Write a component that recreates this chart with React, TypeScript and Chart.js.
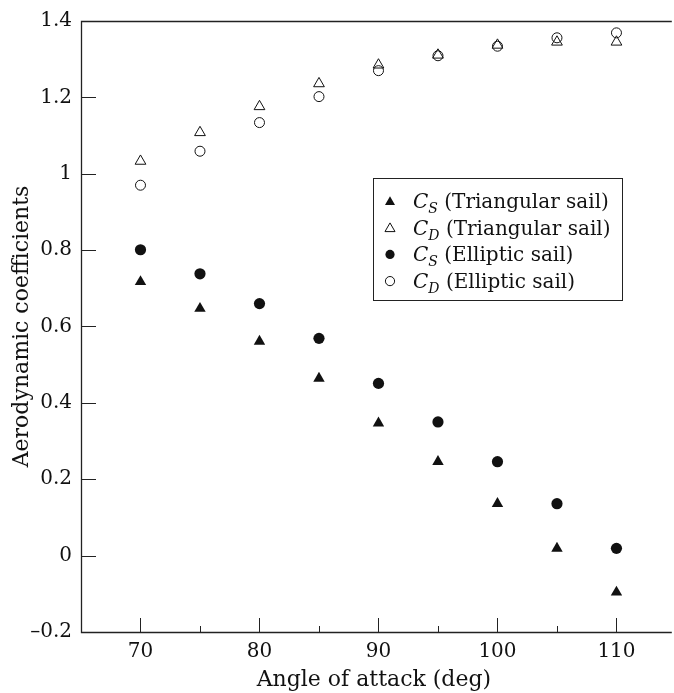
import React, { useEffect, useRef } from "react";
import { Chart, registerables } from "chart.js";

Chart.register(...registerables);

// ---- data ----
const angles = [70, 75, 80, 85, 90, 95, 100, 105, 110];
const csTriangular = [0.717, 0.647, 0.561, 0.464, 0.347, 0.246, 0.136, 0.019, -0.096];
const cdTriangular = [1.033, 1.108, 1.176, 1.236, 1.285, 1.311, 1.337, 1.345, 1.345];
const csElliptic = [0.801, 0.738, 0.66, 0.569, 0.451, 0.35, 0.246, 0.136, 0.019];
const cdElliptic = [0.97, 1.059, 1.134, 1.202, 1.27, 1.309, 1.334, 1.356, 1.369];

const xTickValues = [70, 75, 80, 85, 90, 95, 100, 105, 110];
const xLabelValues = [70, 80, 90, 100, 110];
const yTickValues = [-0.2, 0, 0.2, 0.4, 0.6, 0.8, 1.0, 1.2, 1.4];

const legendSymbols = ["C", "C", "C", "C"];
const legendSubs = ["S", "D", "S", "D"];
const legendRest = [" (Triangular sail)", " (Triangular sail)", " (Elliptic sail)", " (Elliptic sail)"];
const legendMarkers = ["triangleFilled", "triangleOpen", "circleFilled", "circleOpen"];

const xTitle = "Angle of attack (deg)";
const yTitle = "Aerodynamic coefficients";

const FONT = "'DejaVu Serif', serif";
const INK = "#111";

function drawMarker(ctx: CanvasRenderingContext2D, kind: string, x: number, y: number, r: number) {
  ctx.beginPath();
  if (kind.startsWith("triangle")) {
    let rad = 0;
    ctx.moveTo(x + Math.sin(rad) * r, y - Math.cos(rad) * r);
    rad += (2 * Math.PI) / 3;
    ctx.lineTo(x + Math.sin(rad) * r, y - Math.cos(rad) * r);
    rad += (2 * Math.PI) / 3;
    ctx.lineTo(x + Math.sin(rad) * r, y - Math.cos(rad) * r);
    ctx.closePath();
  } else {
    ctx.arc(x, y, r, 0, Math.PI * 2);
  }
  if (kind.endsWith("Filled")) {
    ctx.fillStyle = INK;
    ctx.fill();
  } else {
    ctx.fillStyle = "#fff";
    ctx.fill();
    ctx.lineWidth = 1;
    ctx.strokeStyle = INK;
    ctx.stroke();
  }
}

const framePlugin = {
  id: "frame",
  afterDraw(chart: any) {
    const ctx: CanvasRenderingContext2D = chart.ctx;
    const { left, right, top, bottom } = chart.chartArea;
    const xs = chart.scales.x;
    const ys = chart.scales.y;
    ctx.save();
    ctx.strokeStyle = "#222";
    ctx.lineWidth = 1.3;
    ctx.beginPath();
    ctx.moveTo(right + 5, top + 0.5);
    ctx.lineTo(left + 0.5, top + 0.5);
    ctx.lineTo(left + 0.5, bottom + 0.5);
    ctx.lineTo(right + 5, bottom + 0.5);
    ctx.stroke();
    ctx.lineWidth = 1;
    // x ticks inward
    xTickValues.forEach((v) => {
      const px = Math.round(xs.getPixelForValue(v)) + 0.5;
      const len = xLabelValues.includes(v) ? 14 : 6;
      ctx.beginPath();
      ctx.moveTo(px, bottom);
      ctx.lineTo(px, bottom - len);
      ctx.stroke();
    });
    yTickValues.forEach((v) => {
      const py = Math.round(ys.getPixelForValue(v)) + 0.5;
      ctx.beginPath();
      ctx.moveTo(left, py);
      ctx.lineTo(left + 15, py);
      ctx.stroke();
    });
    // legend
    const bx = 373.5, by = 178.5, bw = 249, bh = 122;
    ctx.fillStyle = "#fff";
    ctx.fillRect(bx, by, bw, bh);
    ctx.strokeStyle = "#222";
    ctx.lineWidth = 1;
    ctx.strokeRect(bx, by, bw, bh);
    legendSymbols.forEach((sym, i) => {
      const cy = 201 + i * 26.7;
      const kind = legendMarkers[i];
      drawMarker(ctx, kind, 390, kind.startsWith("triangle") ? cy + 1 : cy, kind.startsWith("triangle") ? 5.8 : 4.6);
      ctx.fillStyle = INK;
      ctx.textBaseline = "alphabetic";
      ctx.textAlign = "left";
      const base = cy + 7;
      let tx = 413;
      ctx.font = `italic 20px ${FONT}`;
      ctx.fillText(sym, tx, base);
      tx += ctx.measureText(sym).width;
      ctx.font = `italic 14px ${FONT}`;
      ctx.fillText(legendSubs[i], tx, base + 5);
      tx += ctx.measureText(legendSubs[i]).width;
      ctx.font = `20px ${FONT}`;
      ctx.fillText(legendRest[i], tx, base);
    });
    ctx.restore();
  },
};

export default function App() {
  const ref = useRef<HTMLCanvasElement | null>(null);
  useEffect(() => {
    if (!ref.current) return;
    const mk = (data: number[]) => angles.map((a, i) => ({ x: a, y: data[i] }));
    const chart = new Chart(ref.current, {
      type: "scatter",
      data: {
        datasets: [
          { label: "CS (Triangular sail)", data: mk(csTriangular), pointStyle: "triangle", pointRadius: 6.6, backgroundColor: INK, borderColor: INK, borderWidth: 0 },
          { label: "CD (Triangular sail)", data: mk(cdTriangular), pointStyle: "triangle", pointRadius: 6.2, backgroundColor: "rgba(255,255,255,0)", borderColor: INK, borderWidth: 1 },
          { label: "CS (Elliptic sail)", data: mk(csElliptic), pointStyle: "circle", pointRadius: 5.6, backgroundColor: INK, borderColor: INK, borderWidth: 0 },
          { label: "CD (Elliptic sail)", data: mk(cdElliptic), pointStyle: "circle", pointRadius: 5, backgroundColor: "rgba(255,255,255,0)", borderColor: INK, borderWidth: 1 },
        ],
      },
      options: {
        animation: false,
        responsive: false,
        devicePixelRatio: 1,
        layout: { padding: { top: 18, right: 0, left: 0, bottom: 0 } },
        plugins: { legend: { display: false }, tooltip: { enabled: false } },
        scales: {
          x: {
            type: "linear",
            min: 65,
            max: 114.23,
            grid: { display: false, drawTicks: false },
            border: { display: false },
            afterBuildTicks: (s: any) => {
              s.ticks = xTickValues.map((v) => ({ value: v }));
            },
            afterFit: (s: any) => {
              s.height = 61;
            },
            ticks: {
              padding: 8,
              color: INK,
              font: { family: FONT, size: 20 },
              callback: (v: any) => (xLabelValues.includes(Number(v)) ? String(v) : ""),
            },
            title: {
              display: true,
              text: xTitle,
              color: INK,
              font: { family: FONT, size: 22 },
              padding: { top: 0, bottom: 0 },
            },
          },
          y: {
            type: "linear",
            min: -0.2,
            max: 1.4,
            grid: { display: false, drawTicks: false },
            border: { display: false },
            afterBuildTicks: (s: any) => {
              s.ticks = yTickValues.map((v) => ({ value: v }));
            },
            afterFit: (s: any) => {
              s.width = 81;
            },
            ticks: {
              padding: 9,
              color: INK,
              font: { family: FONT, size: 20 },
              callback: (v: any) => {
                const n = Number(v);
                if (Math.abs(n) < 1e-9) return "0";
                if (Math.abs(n - 1) < 1e-9) return "1";
                const s = Math.abs(n).toFixed(1);
                return n < 0 ? "–" + s : s;
              },
            },
            title: {
              display: true,
              text: yTitle,
              color: INK,
              font: { family: FONT, size: 22 },
              padding: { top: 9, bottom: 0 },
            },
          },
        },
      },
      plugins: [framePlugin],
    });
    return () => chart.destroy();
  }, []);
  return (
    <div style={{ position: "absolute", left: 0, top: 0, width: 674, height: 693, background: "#fff" }}>
      <canvas ref={ref} width={674} height={693} style={{ display: "block", width: 674, height: 693 }} />
    </div>
  );
}
